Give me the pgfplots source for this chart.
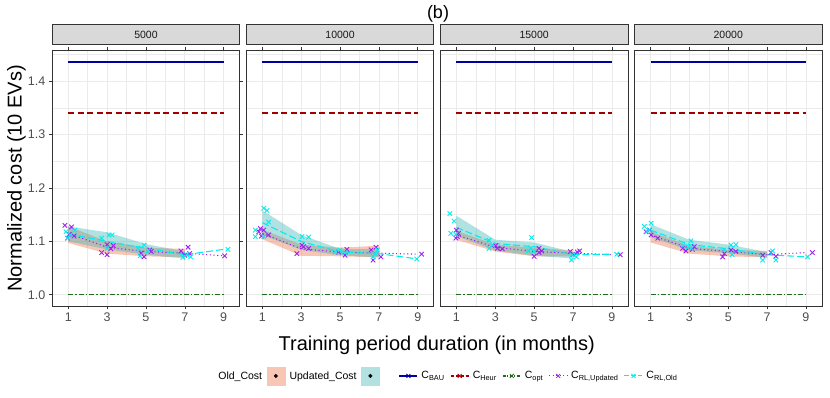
\documentclass[border=0pt]{standalone}
\usepackage{fontspec}
\setmainfont{Liberation Sans}
\usepackage{pgfplots}
\pgfplotsset{compat=1.18}
\definecolor{cBAU}{RGB}{0,0,160}
\definecolor{cHEUR}{RGB}{160,0,0}
\definecolor{cOPT}{RGB}{30,110,30}
\definecolor{cRLU}{RGB}{160,32,240}
\definecolor{cRLO}{RGB}{0,238,238}
\definecolor{oldfill}{RGB}{240,128,90}
\definecolor{updfill}{RGB}{60,180,180}
\definecolor{oldkey}{RGB}{248,198,181}
\definecolor{updkey}{RGB}{177,225,225}
\definecolor{gridc}{RGB}{235,235,235}
\definecolor{g20}{RGB}{51,51,51}
\definecolor{g30}{RGB}{77,77,77}
\definecolor{strip}{RGB}{217,217,217}
\pgfplotsset{
 panel/.style={
  scale only axis, width=187.3pt, height=255.3pt,
  anchor=south west,
  xmin=0.18, xmax=9.82, ymin=0.979, ymax=1.457,
  xtick={1,3,5,7,9}, minor xtick={2,4,6,8},
  ytick={1.0,1.1,1.2,1.3,1.4}, minor ytick={1.05,1.15,1.25,1.35,1.45},
  grid=both,
  major grid style={draw=gridc, line width=0.7pt},
  minor grid style={draw=gridc, line width=0.35pt},
  axis line style={draw=g20, line width=0.6pt},
  tick align=outside, major tick length=3.5pt, minor tick length=0pt,
  tick style={draw=g20, line width=0.6pt},
  ticklabel style={font=\fontsize{12.5}{14}\selectfont, text=g30},
  yticklabel style={/pgf/number format/.cd, fixed, fixed zerofill, precision=1},
  /pgf/number format/assume math mode=true,
  title style={at={(0.5,1)}, anchor=south, fill=strip, draw=g20, line width=0.6pt,
    minimum width=187.3pt, minimum height=20pt, inner sep=0pt,
    font=\fontsize{10.5}{12}\selectfont, text=black!90},
 },
 noy/.style={yticklabels={}, ytick style={draw=none}},
 bauL/.style={color=cBAU, line width=1.4pt, solid, forget plot},
 heurL/.style={color=cHEUR, line width=1.4pt, dash pattern=on 6pt off 3.5pt, forget plot},
 optL/.style={color=cOPT, line width=1.4pt, dash pattern=on 5pt off 2pt on 1.5pt off 2pt, forget plot},
 oldR/.style={draw=none, fill=oldfill, fill opacity=0.45, forget plot},
 updR/.style={draw=none, fill=updfill, fill opacity=0.4, forget plot},
 rluL/.style={color=cRLU, line width=1.1pt, dash pattern=on 1.1pt off 2.6pt, forget plot},
 rloL/.style={color=cRLO, line width=1.1pt, dash pattern=on 7pt off 3pt, forget plot},
 rluP/.style={color=cRLU, only marks, mark=x, mark size=3.2pt, mark options={line width=0.9pt, solid}, forget plot},
 rloP/.style={color=cRLO, only marks, mark=x, mark size=3.2pt, mark options={line width=0.9pt, solid}, forget plot},
}
\begin{document}
\begin{tikzpicture}
\useasboundingbox (0,0) rectangle (830pt,398pt);
% Panel 1
\begin{axis}[panel, at={(52.3pt,92pt)}, title={5000},
 legend style={at={(0.883,-0.274)}, anchor=west, draw=none, fill=none, inner sep=0pt,
   font=\fontsize{10.5}{12}\selectfont, column sep=4pt, nodes={inner sep=0.5pt}},
 legend columns=2, legend plot pos=right]
\addplot[optL] coordinates {(1,1.0)(9,1.0)};
\addplot[heurL] coordinates {(1,1.340)(9,1.340)};
\addplot[bauL] coordinates {(1,1.436)(9,1.436)};
\addplot[oldR] coordinates {(1,1.128)(3,1.100)(5,1.088)(7,1.086)(7,1.070)(5,1.072)(3,1.077)(1,1.097)} -- cycle;
\addplot[updR] coordinates {(1,1.128)(3,1.117)(5,1.095)(7,1.081)(7,1.068)(5,1.075)(3,1.085)(1,1.100)} -- cycle;
\addplot[rluL] coordinates {(1,1.115)(3,1.089)(5,1.081)(7,1.078)(9,1.073)};
\addplot[rloL] coordinates {(1,1.114)(3,1.100)(5,1.087)(7,1.075)(9,1.085)};
\addplot[rluP] coordinates {(0.83,1.130)(1.17,1.127)(0.97,1.106)(1.30,1.110)(1.05,1.113)(2.72,1.079)(3.0,1.075)(3.0,1.094)(3.32,1.092)(3.19,1.086)(4.9,1.071)(5.2,1.084)(5.27,1.081)(4.75,1.078)(6.8,1.082)(7.17,1.089)(7.0,1.074)(7.25,1.077)(9.05,1.073)};
\addplot[rloP] coordinates {(0.89,1.118)(0.97,1.106)(1.34,1.121)(1.1,1.112)(2.72,1.106)(3.1,1.112)(3.25,1.112)(3.0,1.087)(4.6,1.087)(4.9,1.093)(4.7,1.073)(5.1,1.082)(6.9,1.070)(7.3,1.071)(7.1,1.075)(9.22,1.085)};
\addlegendimage{legend image code/.code={\fill[oldkey] (0pt,-9pt) rectangle (18pt,9pt); \fill[black] (9pt,0pt) circle (1.8pt);}}
\addlegendentry{Old\_Cost}
\addlegendimage{legend image code/.code={\fill[updkey] (0pt,-9pt) rectangle (18pt,9pt); \fill[black] (9pt,0pt) circle (1.8pt);}}
\addlegendentry{Updated\_Cost}
\end{axis}
% Panel 2
\begin{axis}[panel, noy, at={(246.4pt,92pt)}, title={10000},
 legend style={at={(0.813,-0.274)}, anchor=west, draw=none, fill=none, inner sep=0pt,
   font=\fontsize{10.5}{12}\selectfont, nodes={inner sep=0.5pt},
   /tikz/every odd column/.append style={column sep=3pt},
   /tikz/every even column/.append style={column sep=5pt}},
 legend columns=-1,
 legend image code/.code={\draw[mark repeat=2,mark phase=2] plot coordinates {(0pt,0pt)(9pt,0pt)(18pt,0pt)};}]
\addplot[optL] coordinates {(1,1.0)(9,1.0)};
\addplot[heurL] coordinates {(1,1.340)(9,1.340)};
\addplot[bauL] coordinates {(1,1.436)(9,1.436)};
\addplot[oldR] coordinates {(1,1.122)(3,1.094)(5,1.088)(7,1.092)(7,1.070)(5,1.072)(3,1.073)(1,1.104)} -- cycle;
\addplot[updR] coordinates {(1,1.158)(3,1.112)(5,1.086)(7,1.085)(7,1.070)(5,1.074)(3,1.084)(1,1.112)} -- cycle;
\addplot[rluL] coordinates {(1,1.115)(3,1.086)(5,1.080)(7,1.078)(9,1.076)};
\addplot[rloL] coordinates {(1,1.135)(3,1.100)(5,1.080)(7,1.077)(9,1.067)};
\addplot[rluP] coordinates {(0.9,1.124)(1.07,1.121)(0.81,1.118)(1.32,1.112)(0.95,1.110)(3.04,1.093)(2.78,1.077)(3.12,1.090)(3.38,1.087)(5.35,1.085)(5.26,1.074)(4.92,1.080)(6.6,1.084)(6.85,1.089)(6.7,1.065)(7.1,1.071)(9.2,1.076)};
\addplot[rloP] coordinates {(1.07,1.162)(1.24,1.158)(1.32,1.136)(0.64,1.121)(0.64,1.109)(1.07,1.109)(3.04,1.109)(3.38,1.108)(4.75,1.080)(5.0,1.084)(5.26,1.079)(6.7,1.071)(6.93,1.084)(6.8,1.077)(8.95,1.067)};
\addlegendimage{color=cBAU, line width=1.1pt, mark=x, mark size=2.8pt, mark options={solid, line width=0.8pt}}
\addlegendentry{C\textsubscript{BAU}}
\addlegendimage{color=cHEUR, line width=1.1pt, dash pattern=on 3pt off 2pt, mark=x, mark size=2.8pt, mark options={solid, line width=0.8pt}}
\addlegendentry{C\textsubscript{Heur}}
\addlegendimage{color=cOPT, line width=1.1pt, dash pattern=on 3pt off 1.5pt on 1pt off 1.5pt, mark=x, mark size=2.8pt, mark options={solid, line width=0.8pt}}
\addlegendentry{C\textsubscript{opt}}
\addlegendimage{color=cRLU, line width=1pt, dash pattern=on 1pt off 2.5pt, mark=x, mark size=2.8pt, mark options={solid, line width=0.8pt}}
\addlegendentry{C\textsubscript{RL,Updated}}
\addlegendimage{color=cRLO, line width=1pt, dash pattern=on 5pt off 2pt, mark=x, mark size=2.8pt, mark options={solid, line width=0.8pt}}
\addlegendentry{C\textsubscript{RL,Old}}
\end{axis}
% Panel 3
\begin{axis}[panel, noy, at={(440.5pt,92pt)}, title={15000}]
\addplot[optL] coordinates {(1,1.0)(9,1.0)};
\addplot[heurL] coordinates {(1,1.340)(9,1.340)};
\addplot[bauL] coordinates {(1,1.436)(9,1.436)};
\addplot[oldR] coordinates {(1,1.120)(3,1.094)(5,1.088)(7,1.083)(7,1.072)(5,1.072)(3,1.081)(1,1.103)} -- cycle;
\addplot[updR] coordinates {(1,1.148)(3,1.103)(5,1.098)(7,1.080)(7,1.068)(5,1.073)(3,1.083)(1,1.110)} -- cycle;
\addplot[rluL] coordinates {(1,1.112)(3,1.089)(5,1.081)(7,1.078)(9,1.075)};
\addplot[rloL] coordinates {(1,1.126)(3,1.096)(5,1.090)(7,1.075)(9,1.076)};
\addplot[rluP] coordinates {(1.0,1.121)(1.05,1.109)(0.97,1.106)(1.1,1.115)(3.02,1.092)(3.11,1.087)(3.36,1.086)(5.0,1.072)(5.25,1.087)(5.39,1.082)(5.25,1.079)(6.86,1.081)(7.22,1.080)(7.34,1.082)(7.0,1.076)(9.43,1.075)};
\addplot[rloP] coordinates {(0.66,1.152)(0.88,1.138)(0.71,1.115)(0.97,1.113)(2.68,1.102)(2.68,1.087)(2.85,1.093)(4.87,1.107)(4.82,1.087)(4.99,1.081)(4.7,1.082)(6.92,1.065)(7.17,1.071)(6.95,1.075)(9.25,1.076)};
\end{axis}
% Panel 4
\begin{axis}[panel, noy, at={(634.6pt,92pt)}, title={20000}]
\addplot[optL] coordinates {(1,1.0)(9,1.0)};
\addplot[heurL] coordinates {(1,1.340)(9,1.340)};
\addplot[bauL] coordinates {(1,1.436)(9,1.436)};
\addplot[oldR] coordinates {(1,1.118)(3,1.092)(5,1.084)(7,1.082)(7,1.070)(5,1.072)(3,1.077)(1,1.098)} -- cycle;
\addplot[updR] coordinates {(1,1.132)(3,1.103)(5,1.094)(7,1.080)(7,1.069)(5,1.078)(3,1.083)(1,1.108)} -- cycle;
\addplot[rluL] coordinates {(1,1.112)(3,1.087)(5,1.081)(7,1.075)(9,1.079)};
\addplot[rloL] coordinates {(1,1.121)(3,1.094)(5,1.086)(7,1.075)(9,1.071)};
\addplot[rluP] coordinates {(0.77,1.118)(1.03,1.112)(1.37,1.106)(0.95,1.121)(2.65,1.087)(2.82,1.082)(3.25,1.090)(3.15,1.085)(4.71,1.071)(4.8,1.077)(5.39,1.081)(5.14,1.084)(6.77,1.074)(7.2,1.079)(7.45,1.072)(9.33,1.079)};
\addplot[rloP] coordinates {(0.68,1.128)(1.03,1.134)(0.94,1.121)(0.8,1.118)(3.08,1.101)(2.65,1.092)(2.95,1.090)(3.1,1.087)(5.14,1.093)(5.39,1.094)(4.79,1.084)(5.2,1.075)(6.77,1.065)(7.28,1.082)(7.45,1.065)(9.08,1.071)};
\end{axis}
\node[font=\fontsize{18}{20}\selectfont] at (438pt,384pt) {(b)};
\node[font=\fontsize{20}{22}\selectfont, anchor=base] at (436.7pt,47pt) {Training period duration (in months)};
\node[font=\fontsize{20}{22}\selectfont, anchor=base, rotate=90] at (21.7pt,219.6pt) {Normalized cost (10 EVs)};
\end{tikzpicture}
\end{document}
